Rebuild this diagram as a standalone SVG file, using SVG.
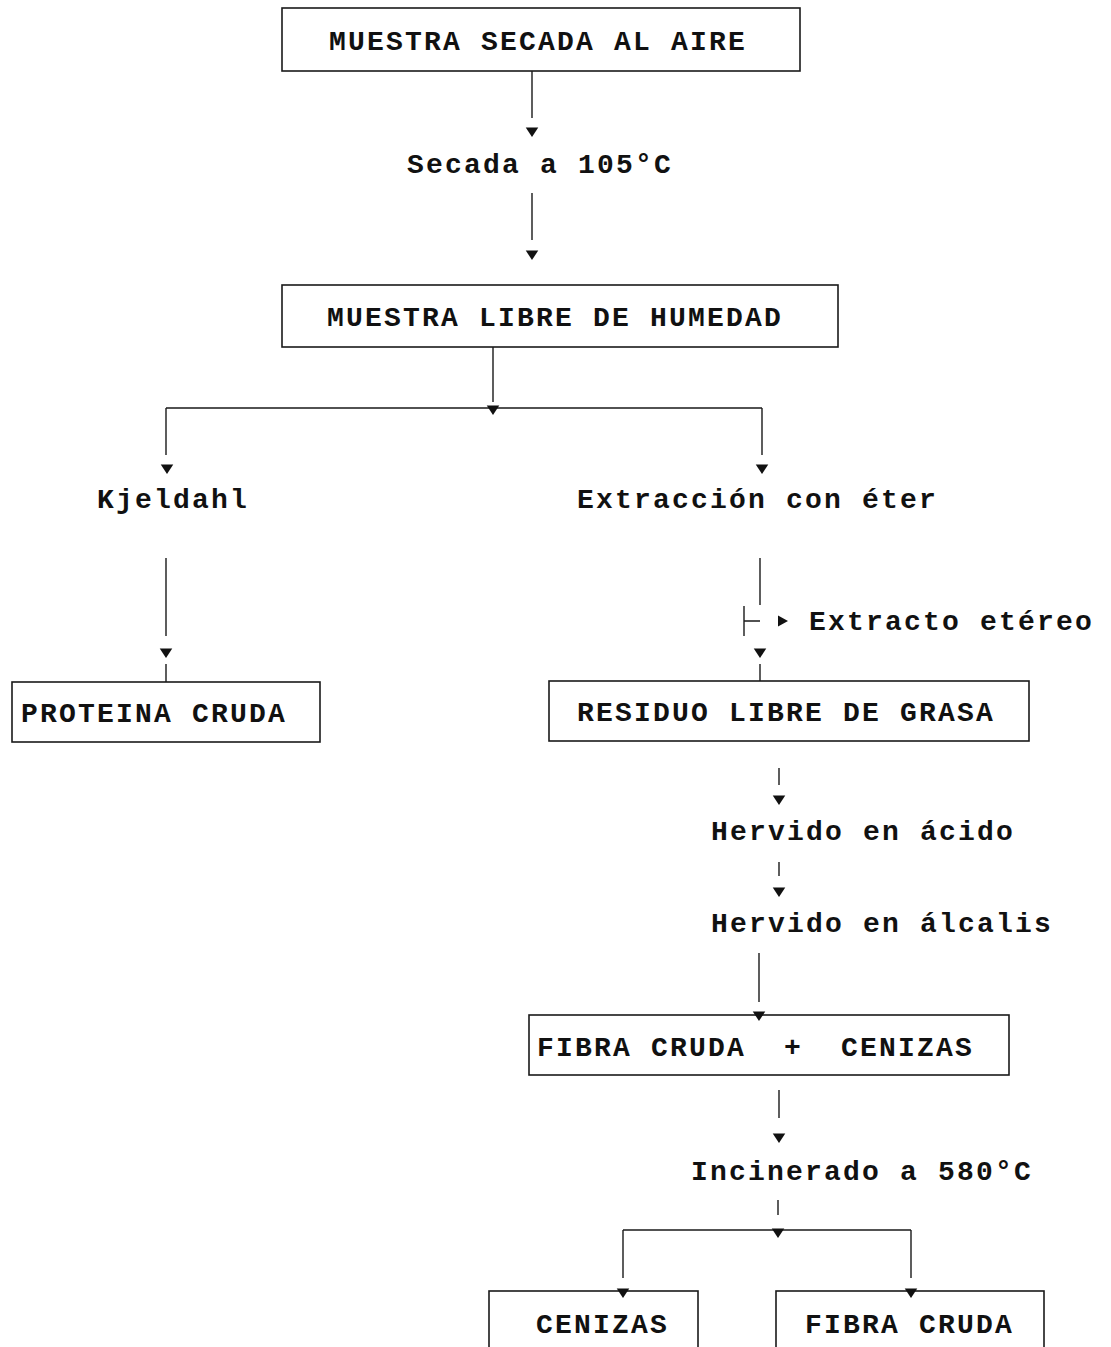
<svg xmlns="http://www.w3.org/2000/svg" xmlns:xlink="http://www.w3.org/1999/xlink" width="1111" height="1347" viewBox="0 0 1111 1347">
<style>
.box{fill:none;stroke:#1a1a1a;stroke-width:1.6}
.t{font-family:"Liberation Mono","Courier New",monospace;font-size:28px;font-weight:bold;fill:#111;letter-spacing:2.2px}
.c{fill:none;stroke:#1a1a1a;stroke-width:1.4}
.ah{fill:#111}
</style>
<defs>
<path id="ad" d="M-6.25,-9.5 L6.25,-9.5 L0,0 Z"/>
<path id="ar" d="M-10,-5.5 L-10,5.5 L0,0 Z"/>
</defs>
<rect width="1111" height="1347" fill="#fff"/>
<g id="n1"><rect class="box" x="282" y="8" width="518" height="63"/><text class="t" x="329" y="50">MUESTRA SECADA AL AIRE</text></g>
<g id="n2"><text class="t" x="407" y="173">Secada a 105°C</text></g>
<g id="n3"><rect class="box" x="282" y="285" width="556" height="62"/><text class="t" x="327" y="326">MUESTRA LIBRE DE HUMEDAD</text></g>
<g id="n4"><text class="t" x="97" y="508">Kjeldahl</text></g>
<g id="n5"><text class="t" x="577" y="508">Extracción con éter</text></g>
<g id="n6"><rect class="box" x="12" y="682" width="308" height="60"/><text class="t" x="21" y="722">PROTEINA CRUDA</text></g>
<g id="n7"><text class="t" x="809" y="630">Extracto etéreo</text></g>
<g id="n8"><rect class="box" x="549" y="681" width="480" height="60"/><text class="t" x="577" y="721">RESIDUO LIBRE DE GRASA</text></g>
<g id="n9"><text class="t" x="711" y="840">Hervido en ácido</text></g>
<g id="n10"><text class="t" x="711" y="932">Hervido en álcalis</text></g>
<g id="n11"><rect class="box" x="529" y="1015" width="480" height="60"/><text class="t" x="537" y="1056" xml:space="preserve">FIBRA CRUDA  +  CENIZAS</text></g>
<g id="n12"><text class="t" x="691" y="1180">Incinerado a 580°C</text></g>
<g id="n13"><rect class="box" x="489" y="1291" width="209" height="70"/><text class="t" x="536" y="1333">CENIZAS</text></g>
<g id="n14"><rect class="box" x="776" y="1291" width="268" height="70"/><text class="t" x="805" y="1333">FIBRA CRUDA</text></g>
<g id="connectors">
<path class="c" d="M532,71 V118 M532,193 V240 M493,347 V402 M166,408 H762 M166,408 V455 M762,408 V455 M166,558 V636 M166,664 V682 M760,558 V605 M744,606 V636 M744,621 H760 M760,664 V681 M779,768 V785 M779,862 V876 M759,953 V1002 M779,1090 V1118 M778,1200 V1215 M623,1230 H911 M623,1230 V1278 M911,1230 V1278"/>
<g class="ah">
<use xlink:href="#ad" x="532" y="137"/>
<use xlink:href="#ad" x="532" y="260"/>
<use xlink:href="#ad" x="493" y="415"/>
<use xlink:href="#ad" x="167" y="474"/>
<use xlink:href="#ad" x="762" y="474"/>
<use xlink:href="#ad" x="166" y="658"/>
<use xlink:href="#ad" x="760" y="658"/>
<use xlink:href="#ar" x="788" y="621"/>
<use xlink:href="#ad" x="779" y="805"/>
<use xlink:href="#ad" x="779" y="897"/>
<use xlink:href="#ad" x="759" y="1021"/>
<use xlink:href="#ad" x="779" y="1143"/>
<use xlink:href="#ad" x="778" y="1238"/>
<use xlink:href="#ad" x="623" y="1298"/>
<use xlink:href="#ad" x="911" y="1298"/>
</g>
</g>
</svg>
